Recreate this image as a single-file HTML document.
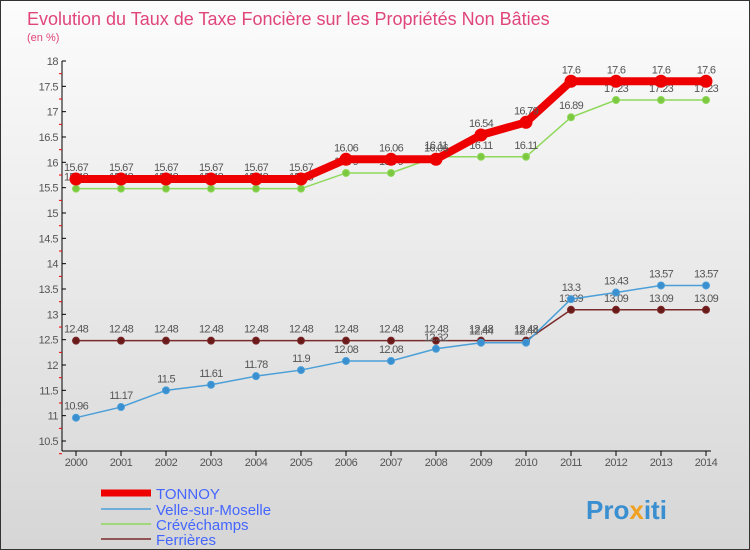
<!DOCTYPE html>
<html><head><meta charset="utf-8"><style>
body{margin:0;}
#c{width:750px;height:550px;position:relative;overflow:hidden;background:linear-gradient(#fcfcfc,#d6d6d6);box-sizing:border-box;border:1px solid #333;font-family:"Liberation Sans",sans-serif;}
svg{position:absolute;left:0;top:0}
</style></head><body>
<div id="c">
<svg width="750" height="550" id="s">
<text x="26" y="24" font-size="18" fill="#e0457b">Evolution du Taux de Taxe Foncière sur les Propriétés Non Bâties</text>
<text x="26" y="40" font-size="11" fill="#e0457b">(en %)</text>
<g id="axes"></g><g id="series"></g>
<g>
<line x1="100" y1="492" x2="150" y2="492" stroke="#e00" stroke-width="7"/>
<text x="155" y="498" font-size="15" fill="#4466ff">TONNOY</text>
<line x1="100" y1="508" x2="150" y2="508" stroke="#4a9fd8" stroke-width="1.5"/>
<text x="155" y="514" font-size="15" fill="#4466ff">Velle-sur-Moselle</text>
<line x1="100" y1="523" x2="150" y2="523" stroke="#8ed85a" stroke-width="1.5"/>
<text x="155" y="529" font-size="15" fill="#4466ff">Crévéchamps</text>
<line x1="100" y1="538" x2="150" y2="538" stroke="#7a2a2a" stroke-width="1.5"/>
<text x="155" y="544" font-size="15" fill="#4466ff">Ferrières</text>
</g>
<text x="585" y="518" font-size="26" font-weight="bold" fill="#3a8fd0">Pro<tspan fill="#f0a020">x</tspan>iti</text>
</svg>
</div>
<script>
const years=[2000,2001,2002,2003,2004,2005,2006,2007,2008,2009,2010,2011,2012,2013,2014];
const yTicks=[10.5,11,11.5,12,12.5,13,13.5,14,14.5,15,15.5,16,16.5,17,17.5,18];
const tonnoy=[15.67,15.67,15.67,15.67,15.67,15.67,16.06,16.06,16.06,16.54,16.79,17.6,17.6,17.6,17.6];
const velle=[10.96,11.17,11.5,11.61,11.78,11.9,12.08,12.08,12.32,12.44,12.44,13.3,13.43,13.57,13.57];
const creve=[15.48,15.48,15.48,15.48,15.48,15.48,15.79,15.79,16.11,16.11,16.11,16.89,17.23,17.23,17.23];
const ferr=[12.48,12.48,12.48,12.48,12.48,12.48,12.48,12.48,12.48,12.48,12.48,13.09,13.09,13.09,13.09];
const NS="http://www.w3.org/2000/svg";
const xS=y=>75+(y-2000)*45;
const yS=v=>60+(18-v)*(380/7.5);
function mk(t,a,p){const e=document.createElementNS(NS,t);for(const k in a)e.setAttribute(k,a[k]);p.appendChild(e);return e;}
const ax=document.getElementById('axes');
const yl=mk('line',{x1:61,y1:60,x2:61,y2:450,stroke:'#000'},ax);


const xl=mk('line',{x1:61,y1:450,x2:710,y2:450,stroke:'#000'},ax);


yTicks.forEach(v=>{const y=yS(v);mk('line',{x1:61,y1:y,x2:65,y2:y,stroke:'#000'},ax);
mk('line',{x1:58,y1:y+12.7,x2:61,y2:y+12.7,stroke:'#e00'},ax);
const t=mk('text',{x:57,y:y+4,'font-size':11,'text-anchor':'end',fill:'#555','letter-spacing':'-0.5'},ax);t.textContent=v;

});
years.forEach(yr=>{const x=xS(yr);mk('line',{x1:x,y1:450,x2:x,y2:455,stroke:'#000'},ax);
const t=mk('text',{x:x,y:465,'font-size':11,'text-anchor':'middle',fill:'#555','letter-spacing':'-0.5'},ax);t.textContent=yr;

});
const sg=document.getElementById('series');
function series(vals,name,col,w,r,fill){
const g=mk('g',{},sg);


const pl=mk('polyline',{points:vals.map((v,i)=>xS(years[i])+','+yS(v)).join(' '),fill:'none',stroke:col,'stroke-width':w},g);


vals.forEach((v,i)=>{const c=mk('circle',{cx:xS(years[i]),cy:yS(v),r:r,fill:fill,stroke:col,'stroke-width':1},g);


const t=mk('text',{x:xS(years[i]),y:yS(v)-8,'font-size':11,'text-anchor':'middle',fill:'#555','letter-spacing':'-0.7'},g);t.textContent=v;

});}
series(ferr,'ferrieres','#7a2a2a',1.5,3.5,'#6b1a1a');
series(velle,'velle','#4a9fd8',1.5,3.5,'#3a8fd0');
series(creve,'crevechamps','#8ed85a',1.5,3.5,'#7cc840');
series(tonnoy,'tonnoy','#e00',8,6,'#e00');
</script>
</body></html>
